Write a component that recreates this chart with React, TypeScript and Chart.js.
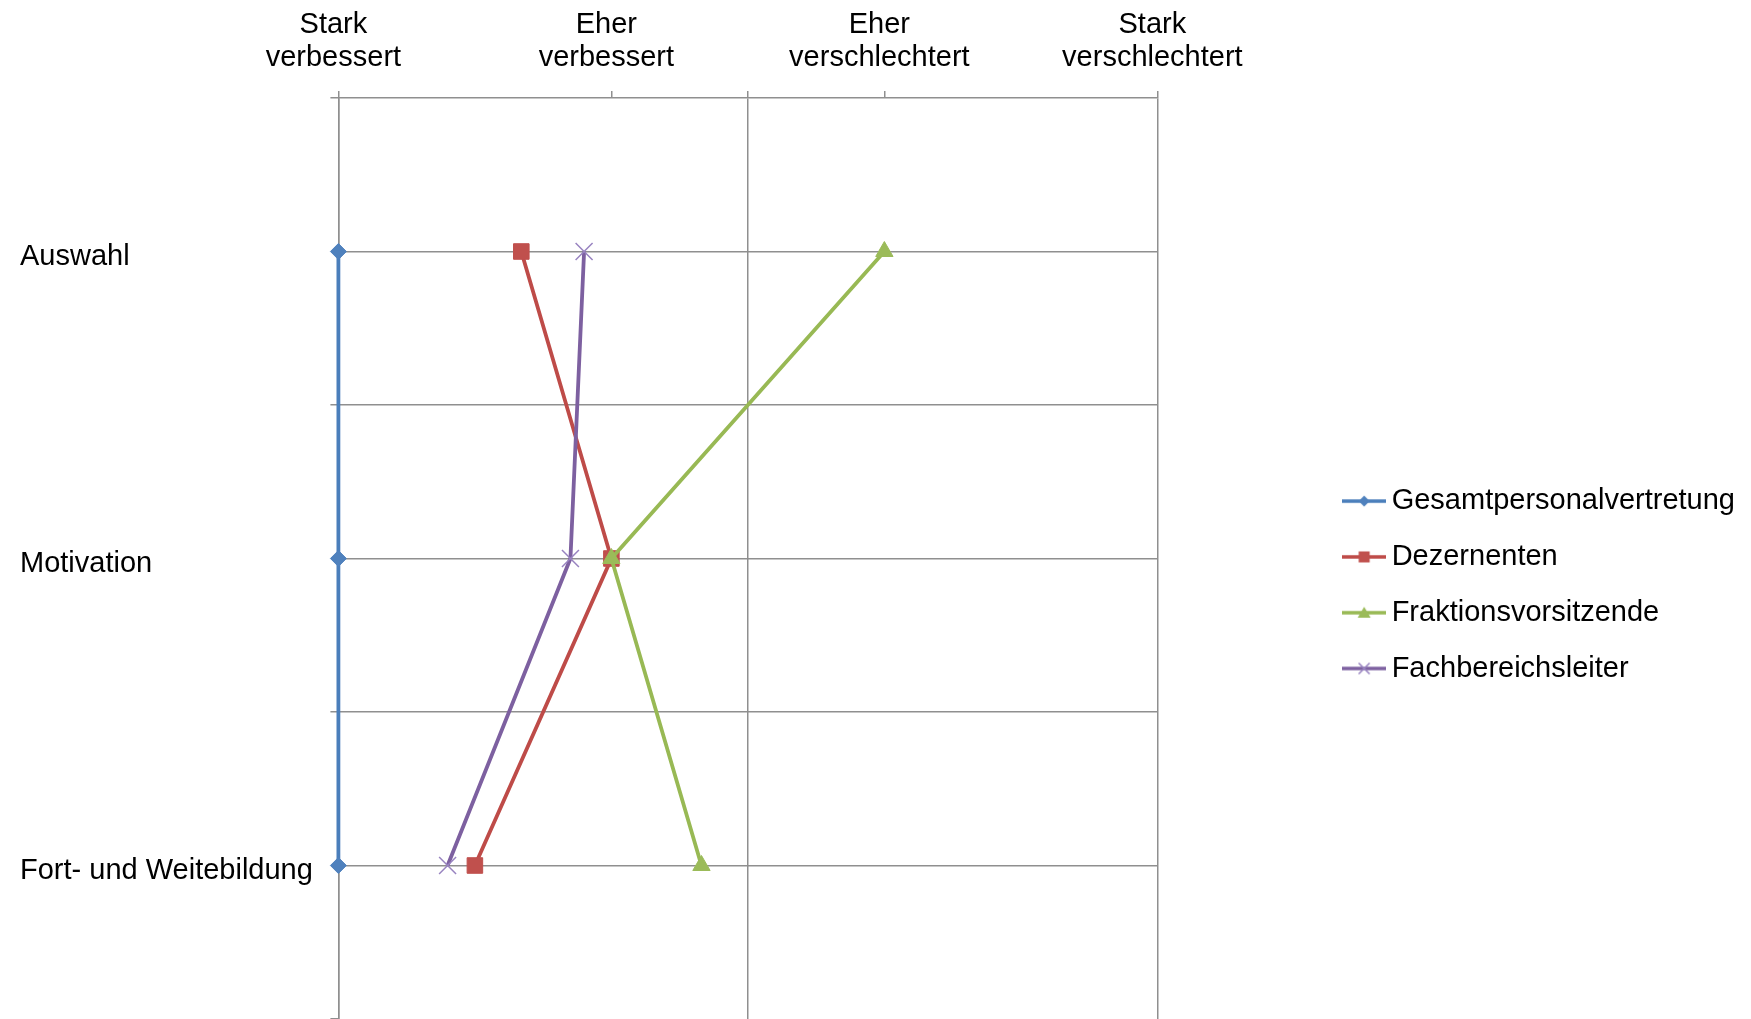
import { useEffect, useRef } from 'react';
import { Chart, registerables } from 'chart.js';

Chart.register(...registerables);

// Categories run down the chart, the rating scale runs across the top.
const categories = ['Auswahl', 'Motivation', 'Fort- und Weitebildung'];
const levelLabels = [
  ['Stark', 'verbessert'],
  ['Eher', 'verbessert'],
  ['Eher', 'verschlechtert'],
  ['Stark', 'verschlechtert'],
];
const levelTickValues = [1, 2, 2.5, 3, 4];
const levelGridValues = [1, 2.5, 4];

// Mean rating per category (1 = stark verbessert ... 4 = stark verschlechtert)
const gesamtpersonalvertretung = [1, 1, 1];
const dezernenten = [1.67, 2, 1.5];
const fraktionsvorsitzende = [3, 2, 2.33];
const fachbereichsleiter = [1.9, 1.85, 1.4];

const GRID = '#8f8f8f';
const NONE = 'rgba(0,0,0,0)';
const FONT = "'Liberation Sans', Arial, Helvetica, sans-serif";

type Shape = 'rectRot' | 'rect' | 'triangle' | 'crossRot';

const series: {
  label: string;
  values: number[];
  line: string;
  marker: string;
  shape: Shape;
  radius: number;
  pointBorder: number;
}[] = [
  { label: 'Gesamtpersonalvertretung', values: gesamtpersonalvertretung, line: '#4A7EBB', marker: '#4F81BD', shape: 'rectRot', radius: 8, pointBorder: 1 },
  { label: 'Dezernenten', values: dezernenten, line: '#BE4B48', marker: '#C0504D', shape: 'rect', radius: 11, pointBorder: 1 },
  { label: 'Fraktionsvorsitzende', values: fraktionsvorsitzende, line: '#98B954', marker: '#9BBB59', shape: 'triangle', radius: 10, pointBorder: 1 },
  { label: 'Fachbereichsleiter', values: fachbereichsleiter, line: '#7D60A0', marker: '#9883C0', shape: 'crossRot', radius: 12, pointBorder: 1.5 },
];

// Category i sits in the middle of its band on the 0..6 vertical scale.
const categoryPos = (i: number) => 2 * i + 1;

// Legend symbol: a short line with the series marker in its middle.
function makeLegendIcon(line: string, marker: string, shape: Shape): HTMLCanvasElement {
  const c = document.createElement('canvas');
  c.width = 44;
  c.height = 20;
  const g = c.getContext('2d')!;
  const cx = 22;
  const cy = 10;
  g.strokeStyle = line;
  g.lineWidth = 3.5;
  g.beginPath();
  g.moveTo(0, cy);
  g.lineTo(44, cy);
  g.stroke();
  g.fillStyle = marker;
  g.strokeStyle = marker;
  g.beginPath();
  if (shape === 'rectRot') {
    g.moveTo(cx, cy - 5.5);
    g.lineTo(cx + 5.5, cy);
    g.lineTo(cx, cy + 5.5);
    g.lineTo(cx - 5.5, cy);
    g.closePath();
    g.fill();
  } else if (shape === 'rect') {
    g.rect(cx - 5.5, cy - 5.5, 11, 11);
    g.fill();
  } else if (shape === 'triangle') {
    g.moveTo(cx, cy - 6);
    g.lineTo(cx + 6.5, cy + 5);
    g.lineTo(cx - 6.5, cy + 5);
    g.closePath();
    g.fill();
  } else {
    g.lineWidth = 1.5;
    g.moveTo(cx - 5.5, cy - 5.5);
    g.lineTo(cx + 5.5, cy + 5.5);
    g.moveTo(cx + 5.5, cy - 5.5);
    g.lineTo(cx - 5.5, cy + 5.5);
    g.stroke();
  }
  return c;
}

// Keep tick labels from reserving extra room at the ends of an axis.
const noEdgePadding = (s: any) => {
  s.paddingTop = 0;
  s.paddingBottom = 0;
  s.paddingLeft = 0;
  s.paddingRight = 0;
};

export default function App() {
  const canvasRef = useRef<HTMLCanvasElement | null>(null);

  useEffect(() => {
    if (!canvasRef.current) return;
    Chart.defaults.font.family = FONT;

    const icons = series.map((s) => makeLegendIcon(s.line, s.marker, s.shape));
    const defaultLabels = Chart.defaults.plugins.legend.labels.generateLabels;

    const chart = new Chart(canvasRef.current, {
      type: 'scatter',
      data: {
        datasets: series.map((s, i) => ({
          label: s.label,
          data: s.values.map((v, k) => ({ x: v, y: categoryPos(k) })),
          showLine: true,
          borderColor: s.line,
          backgroundColor: s.marker,
          borderWidth: 3.8,
          tension: 0,
          pointStyle: s.shape,
          pointRadius: s.radius,
          pointHoverRadius: s.radius,
          pointBackgroundColor: s.marker,
          pointBorderColor: s.marker,
          pointBorderWidth: s.pointBorder,
          clip: false,
          order: series.length - i,
        })),
      },
      options: {
        animation: false,
        responsive: false,
        events: [],
        layout: { autoPadding: false, padding: { left: 20, right: 6, top: 0, bottom: 0 } },
        scales: {
          x: {
            type: 'linear',
            position: 'top',
            min: 1,
            max: 4,
            afterBuildTicks: (s: any) => {
              s.ticks = levelTickValues.map((v) => ({ value: v }));
            },
            afterFit: (s: any) => {
              s.height = 98;
              noEdgePadding(s);
            },
            ticks: {
              autoSkip: false,
              maxRotation: 0,
              minRotation: 0,
              padding: 16,
              labelOffset: -5,
              color: '#000',
              font: { size: 29, lineHeight: 1.16 },
              callback: (v: any) => (Number.isInteger(v) ? levelLabels[v - 1] : ''),
            },
            grid: {
              color: (ctx: any) => (ctx.tick && levelGridValues.includes(ctx.tick.value) ? GRID : NONE),
              tickColor: GRID,
              tickLength: 7,
              lineWidth: 1.5,
              tickWidth: 1.5,
            },
            border: { color: GRID, width: 1.5 },
          },
          y: {
            type: 'linear',
            position: 'left',
            min: 0,
            max: 6,
            reverse: true,
            afterBuildTicks: (s: any) => {
              s.ticks = [0, 1, 2, 3, 4, 5, 6].map((v) => ({ value: v }));
            },
            afterFit: (s: any) => {
              s.width = 318.4;
              noEdgePadding(s);
            },
            ticks: {
              autoSkip: false,
              crossAlign: 'far',
              labelOffset: 5,
              color: '#000',
              font: { size: 29 },
              callback: (v: any) => (v % 2 === 1 ? categories[(v - 1) / 2] : ''),
            },
            grid: {
              color: (ctx: any) => (ctx.tick && ctx.tick.value >= 1 && ctx.tick.value <= 5 ? GRID : NONE),
              tickColor: (ctx: any) => (ctx.tick && ctx.tick.value % 2 === 0 ? GRID : NONE),
              tickLength: 8,
              lineWidth: 1.5,
              tickWidth: 1.5,
            },
            border: { color: GRID, width: 1.5 },
          },
          // empty band between the plot and the legend
          gap: {
            type: 'linear',
            position: 'right',
            display: true,
            grid: { display: false, drawTicks: false },
            border: { display: false },
            ticks: { display: false },
            afterFit: (s: any) => {
              s.width = 167;
              noEdgePadding(s);
            },
          },
        },
        plugins: {
          tooltip: { enabled: false },
          legend: {
            position: 'right',
            fullSize: false,
            align: 'center',
            reverse: true,
            maxWidth: 600,
            title: { display: true, text: ' ', padding: { top: 20.3, bottom: 20.3 }, font: { size: 10 } },
            labels: {
              usePointStyle: true,
              pointStyleWidth: 26,
              padding: 26.8,
              color: '#000',
              font: { size: 29 },
              generateLabels: (c: any) =>
                defaultLabels(c).map((item: any) => ({ ...item, pointStyle: icons[item.datasetIndex] })),
            },
          },
        },
      } as any,
    });

    return () => chart.destroy();
  }, []);

  return (
    <div style={{ position: 'fixed', left: 0, top: 0, width: 1751, height: 1019, background: '#fff' }}>
      <canvas ref={canvasRef} width={1751} height={1019} style={{ display: 'block' }} />
    </div>
  );
}
